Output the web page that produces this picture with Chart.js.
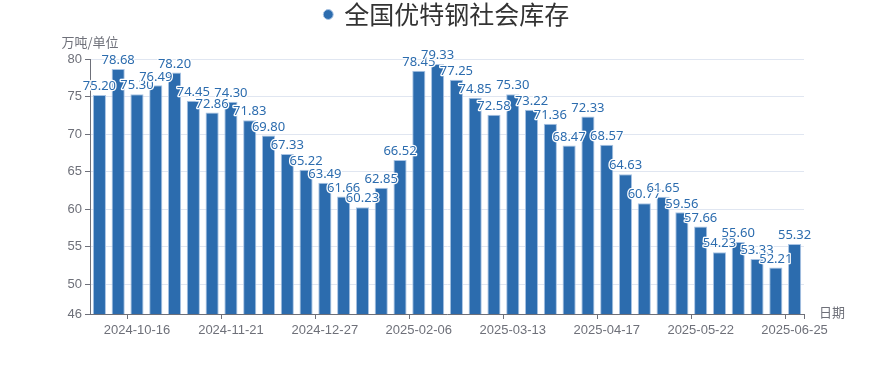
<!DOCTYPE html>
<html>
<head>
<meta charset="utf-8">
<script src="https://cdn.jsdelivr.net/npm/chart.js@4.4.1/dist/chart.umd.min.js"></script>
<style>
    html, body { margin: 0; padding: 0; background: #fff; }
    #wrap { width: 894px; height: 384px; position: relative; }
</style>
</head>
<body>
<div id="wrap"><canvas id="stockChart"></canvas></div>
<script>

/* =========================================
   DATA
========================================= */

const seriesName = "全国优特钢社会库存";

const dates = [
    "2024-10-02", "2024-10-10", "2024-10-16", "2024-10-24", "2024-10-31",
    "2024-11-07", "2024-11-14", "2024-11-21", "2024-11-28", "2024-12-05",
    "2024-12-12", "2024-12-19", "2024-12-27", "2025-01-02", "2025-01-09",
    "2025-01-16", "2025-01-23", "2025-02-06", "2025-02-13", "2025-02-20",
    "2025-02-27", "2025-03-06", "2025-03-13", "2025-03-20", "2025-03-27",
    "2025-04-03", "2025-04-10", "2025-04-17", "2025-04-24", "2025-04-30",
    "2025-05-08", "2025-05-15", "2025-05-22", "2025-05-29", "2025-06-05",
    "2025-06-12", "2025-06-19", "2025-06-25"
];

const stockValues = [
    75.20, 78.68, 75.30, 76.49, 78.20,
    74.45, 72.86, 74.30, 71.83, 69.80,
    67.33, 65.22, 63.49, 61.66, 60.23,
    62.85, 66.52, 78.45, 79.33, 77.25,
    74.85, 72.58, 75.30, 73.22, 71.36,
    68.47, 72.33, 68.57, 64.63, 60.77,
    61.65, 59.56, 57.66, 54.23, 55.60,
    53.33, 52.21, 55.32
];

const yTicks = [46, 50, 55, 60, 65, 70, 75, 80];

const yAxisName = "万吨/单位";
const xAxisName = "日期";


/* =========================================
   HELPERS
========================================= */

const barColor = "#2c6cae";
const axisColor = "#6e7079";

function isLabelIndex(i) {
    return i % 5 === 2;
}


/* =========================================
   PLUGINS
========================================= */

// extra room under the legend, legend centred on the whole canvas
const legendSpacing = {
    id: "legendSpacing",
    beforeInit(chart) {
        const fit = chart.legend.fit;
        chart.legend.fit = function () {
            fit.bind(chart.legend)();
            this.height += 22;
        };
    },
    afterLayout(chart) {
        chart.legend.left = 0;
        chart.legend.right = chart.width;
        chart.legend.width = chart.width;
    }
};

// value labels above bars
const barLabels = {
    id: "barLabels",
    afterDatasetsDraw(chart) {
        const ctx = chart.ctx;
        const meta = chart.getDatasetMeta(0);

        ctx.save();
        ctx.font = "13px 'Noto Sans', 'Noto Sans CJK SC', sans-serif";
        ctx.textAlign = "center";
        ctx.textBaseline = "bottom";
        ctx.lineJoin = "round";

        meta.data.forEach((bar, i) => {
            const text = stockValues[i].toFixed(2);
            ctx.lineWidth = 2.5;
            ctx.strokeStyle = "#ffffff";
            ctx.strokeText(text, bar.x, bar.y - 2);
            ctx.fillStyle = barColor;
            ctx.fillText(text, bar.x, bar.y - 2);
        });

        ctx.restore();
    }
};

// axis names
const axisNames = {
    id: "axisNames",
    afterDraw(chart) {
        const ctx = chart.ctx;
        const area = chart.chartArea;

        ctx.save();
        ctx.font = "13px 'Noto Sans CJK SC', sans-serif";
        ctx.fillStyle = axisColor;
        ctx.textBaseline = "middle";

        ctx.textAlign = "center";
        ctx.fillText(yAxisName, area.left, area.top - 17);

        ctx.textAlign = "left";
        ctx.fillText(xAxisName, area.right + 15, area.bottom - 2);

        ctx.restore();
    }
};


/* =========================================
   CREATE CHART
========================================= */

const stockChart = new Chart(document.getElementById("stockChart"), {

    type: "bar",

    data: {
        labels: dates,
        datasets: [
            {
                label: seriesName,
                data: stockValues,
                backgroundColor: barColor,
                borderColor: "#a9c4e4",
                borderWidth: 1,
                barPercentage: 0.7,
                categoryPercentage: 1
            }
        ]
    },

    options: {

        responsive: true,
        maintainAspectRatio: false,
        animation: false,

        layout: {
            padding: {
                left: 50,
                right: 90,
                top: 0,
                bottom: 0
            }
        },

        plugins: {

            legend: {
                position: "top",
                labels: {
                    usePointStyle: true,
                    pointStyle: "circle",
                    boxWidth: 7,
                    boxHeight: 7,
                    padding: 2,
                    color: "#333",
                    font: {
                        size: 25,
                        family: "'Noto Sans CJK SC', sans-serif"
                    }
                }
            },

            tooltip: {
                enabled: true
            }

        },

        scales: {

            x: {
                offset: true,
                grid: {
                    display: true,
                    offset: true,
                    drawOnChartArea: false,
                    tickLength: 5,
                    tickColor: function (c) {
                        if (c.index === undefined || isLabelIndex(c.index))
                            return axisColor;
                        return "rgba(0,0,0,0)";
                    }
                },
                border: {
                    color: axisColor
                },
                ticks: {
                    autoSkip: false,
                    maxRotation: 0,
                    color: axisColor,
                    padding: 4,
                    font: {
                        size: 13
                    },
                    callback: function (value, index) {
                        return isLabelIndex(index) ? dates[index] : "";
                    }
                },
                afterFit: function (scale) {
                    scale.height = 70;
                }
            },

            y: {
                min: 46,
                max: 80,
                afterBuildTicks: function (scale) {
                    scale.ticks = yTicks.map(v => ({ value: v }));
                },
                grid: {
                    color: "#e0e6f1",
                    tickColor: axisColor,
                    tickLength: 5
                },
                border: {
                    color: axisColor
                },
                ticks: {
                    color: axisColor,
                    padding: 3,
                    font: {
                        size: 13
                    }
                },
                afterFit: function (scale) {
                    scale.width = 40;
                }
            }

        }

    },

    plugins: [legendSpacing, barLabels, axisNames]

});

</script>
</body>
</html>
